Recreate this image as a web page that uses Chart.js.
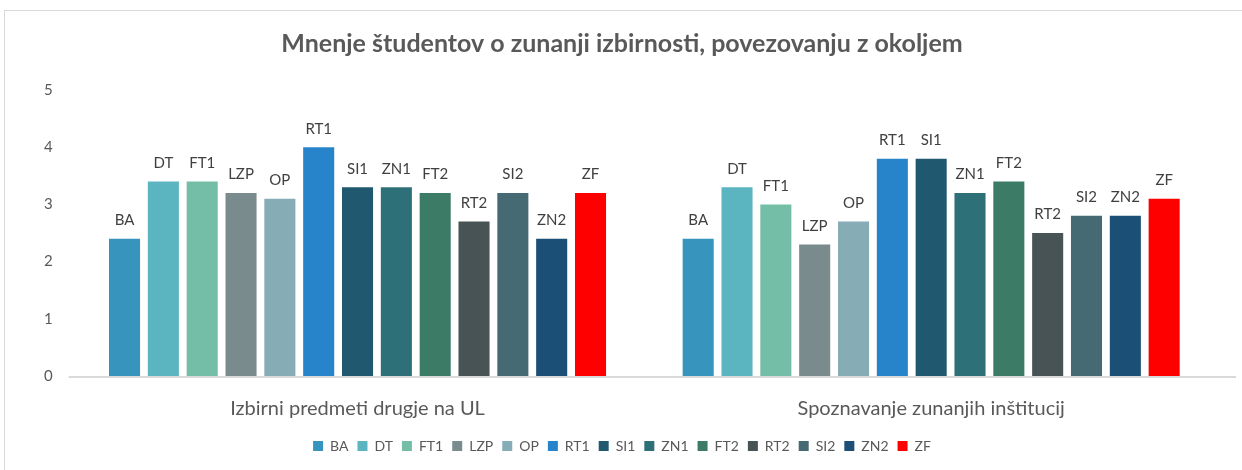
<!DOCTYPE html>
<html>
<head>
<meta charset="utf-8">
<script src="https://cdn.jsdelivr.net/npm/chart.js@4.4.1/dist/chart.umd.min.js"></script>
<style>
  html, body { margin: 0; padding: 0; background: #ffffff; }
  #wrap { position: absolute; left: 0; top: 0; width: 1242px; height: 470px; }
  #frame { position: absolute; left: 4px; top: 10px; width: 1250px; height: 470px; border: 1px solid #d9d9d9; box-sizing: border-box; }
  canvas { position: absolute; left: 0; top: 0; }
</style>
</head>
<body>
<div id="wrap">
  <div id="frame"></div>
  <canvas id="c" width="1242" height="470"></canvas>
</div>
<script>
const categories = ["Izbirni predmeti drugje na UL", "Spoznavanje zunanjih inštitucij"];
const seriesNames = ["BA", "DT", "FT1", "LZP", "OP", "RT1", "SI1", "ZN1", "FT2", "RT2", "SI2", "ZN2", "ZF"];
const seriesColors = ["#3795BD", "#5AB5C1", "#74BDA6", "#7A8B8D", "#86ACB6", "#2884CA", "#20586F", "#2E7077", "#3C7C66", "#485355", "#466A73", "#1B4F75", "#FF0000"];
const valuesIzbirni = [2.4, 3.4, 3.4, 3.2, 3.1, 4.0, 3.3, 3.3, 3.2, 2.7, 3.2, 2.4, 3.2];
const valuesSpoznavanje = [2.4, 3.3, 3.0, 2.3, 2.7, 3.8, 3.8, 3.2, 3.4, 2.5, 2.8, 2.8, 3.1];
const yTicks = [0, 1, 2, 3, 4, 5];
const chartTitle = "Mnenje študentov o zunanji izbirnosti, povezovanju z okoljem";

const FONT = "Lato, 'Open Sans', sans-serif";

const datasets = seriesNames.map((name, i) => ({
  label: name,
  data: [valuesIzbirni[i], valuesSpoznavanje[i]],
  backgroundColor: seriesColors[i],
  borderWidth: 0,
  categoryPercentage: 0.88,
  barPercentage: 0.8
}));

const barLabelPlugin = {
  id: 'barLabels',
  afterDatasetsDraw(chart) {
    const ctx = chart.ctx;
    ctx.save();
    ctx.font = "15px " + FONT;
    ctx.fillStyle = "#404040";
    ctx.textAlign = "center";
    ctx.textBaseline = "bottom";
    chart.data.datasets.forEach((ds, di) => {
      const meta = chart.getDatasetMeta(di);
      if (meta.hidden) return;
      meta.data.forEach((el) => {
        ctx.fillText(ds.label, el.x, el.y - 11);
      });
    });
    ctx.restore();
  }
};

const axisDecorPlugin = {
  id: 'axisDecor',
  afterDraw(chart) {
    const a = chart.chartArea;
    const ctx = chart.ctx;
    const xs = chart.scales.x;
    ctx.save();
    // baseline
    ctx.strokeStyle = "#d9d9d9";
    ctx.lineWidth = 2;
    ctx.beginPath();
    ctx.moveTo(a.left - 2, a.bottom + 1);
    ctx.lineTo(chart.width - 6, a.bottom + 1);
    ctx.stroke();
    // category labels
    ctx.font = "20px " + FONT;
    ctx.fillStyle = "#595959";
    ctx.textAlign = "center";
    ctx.textBaseline = "middle";
    chart.data.labels.forEach((lab, i) => {
      ctx.fillText(lab, xs.getPixelForValue(i), a.bottom + 33);
    });
    ctx.restore();
  }
};

new Chart(document.getElementById('c'), {
  type: 'bar',
  data: { labels: categories, datasets: datasets },
  options: {
    responsive: false,
    animation: false,
    devicePixelRatio: 1,
    layout: { padding: { left: 26, right: 24, top: 18, bottom: 7 } },
    plugins: {
      title: {
        display: true,
        text: chartTitle,
        color: "#595959",
        font: { family: FONT, size: 25, weight: 'bold' },
        padding: { top: 11, bottom: 31 }
      },
      legend: {
        position: 'bottom',
        labels: {
          color: "#595959",
          font: { family: FONT, size: 14 },
          boxWidth: 10,
          boxHeight: 10,
          padding: 9
        }
      },
      tooltip: { enabled: false }
    },
    scales: {
      x: {
        grid: { display: false, drawTicks: false },
        border: { display: false },
        ticks: { display: false },
        afterFit(scale) { scale.height = 54; }
      },
      y: {
        min: 0,
        max: 5,
        afterBuildTicks(axis) { axis.ticks = yTicks.map(v => ({ value: v })); },
        grid: { display: false, drawTicks: false },
        border: { display: false },
        ticks: { color: "#595959", font: { family: FONT, size: 15 }, padding: 18 }
      }
    }
  },
  plugins: [barLabelPlugin, axisDecorPlugin]
});
</script>
</body>
</html>
